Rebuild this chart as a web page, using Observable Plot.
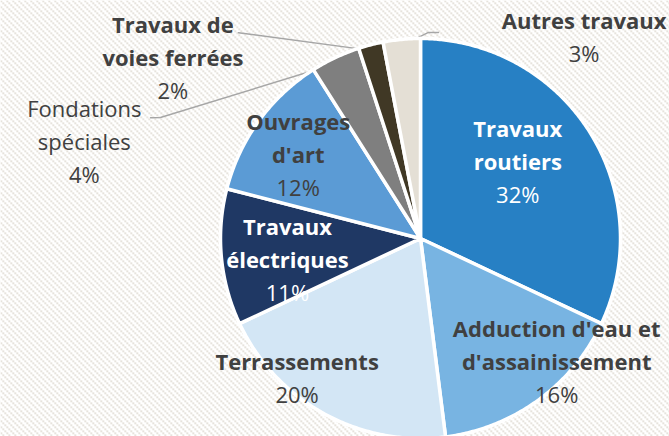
<!DOCTYPE html>
<html>
<head>
<meta charset="utf-8">
<script src="https://cdn.jsdelivr.net/npm/d3@7"></script>
<script src="https://cdn.jsdelivr.net/npm/@observablehq/plot@0.6"></script>
<style>
  html, body { margin: 0; padding: 0; background: #ffffff; }
</style>
</head>
<body>
<div id="chart"></div>
<script>
// ---------- DATA ----------
const categories = [
  "Travaux routiers",
  "Adduction d'eau et d'assainissement",
  "Terrassements",
  "Travaux électriques",
  "Ouvrages d'art",
  "Fondations spéciales",
  "Travaux de voies ferrées",
  "Autres travaux"
];
const shares = [32, 16, 20, 11, 12, 4, 2, 3];
const percentLabels = ["32%", "16%", "20%", "11%", "12%", "4%", "2%", "3%"];
const nameLines = [
  ["Travaux", "routiers"],
  ["Adduction d'eau et", "d'assainissement"],
  ["Terrassements"],
  ["Travaux", "électriques"],
  ["Ouvrages", "d'art"],
  ["Fondations", "spéciales"],
  ["Travaux de", "voies ferrées"],
  ["Autres travaux"]
];

// ---------- STYLE ----------
const sliceColors = ["#2780C4", "#78B4E2", "#D3E6F5", "#1F3864", "#5B9BD5", "#7F7F7F", "#403825", "#E4DFD5"];
const labelColors = ["#FFFFFF", "#404040", "#404040", "#FFFFFF", "#404040", "#404040", "#404040", "#404040"];
const nameBold = [true, true, true, true, true, false, true, true];

// ---------- LAYOUT (polar: degrees clockwise from 12 o'clock, radius as fraction of pie radius) ----------
const W = 669, H = 436, CX = 420, CY = 238, R = 200;
const FONT = 22, LINE_PX = 33;
const labelPolar = [
  [66.6, 0.53], [139.1, 1.04], [218.1, 1.0], [247.5, 0.72],
  [292.1, 0.66], [280.6, 1.71], [300.7, 1.44], [41.7, 1.23]
];
// leader waypoints from the label side toward the slice
const leaderWaypoints = {
  "Fondations spéciales": [[294.1, 1.479], [294.95, 1.434]],
  "Travaux de voies ferrées": [[318.5, 1.374]],
  "Autres travaux": [[4.99, 1.034], [2.22, 1.031]]
};

const toXY = (deg, r) => {
  const a = deg * Math.PI / 180;
  return {x: r * Math.sin(a), y: r * Math.cos(a)};
};

// ---------- GEOMETRY ----------
const arcs = d3.pie().sort(null).value(d => d)(shares);
const slices = arcs.map(p => {
  const pts = [{x: 0, y: 0}];
  const n = Math.max(2, Math.ceil((p.endAngle - p.startAngle) / (Math.PI / 360)));
  for (let k = 0; k <= n; k++) {
    const a = p.startAngle + (p.endAngle - p.startAngle) * k / n;
    pts.push({x: Math.sin(a), y: Math.cos(a)});
  }
  pts.push({x: 0, y: 0});
  return pts;
});

const leaders = Object.entries(leaderWaypoints).map(([cat, wps]) => {
  const i = categories.indexOf(cat);
  const mid = (arcs[i].startAngle + arcs[i].endAngle) / 2 * 180 / Math.PI;
  return [...wps.map(([d, r]) => toXY(d, r)), toXY(mid, 0.97)];
});

const rows = [];
categories.forEach((c, i) => {
  const p = toXY(...labelPolar[i]);
  rows.push({x: p.x, y: p.y, text: percentLabels[i], color: labelColors[i], bold: false});
  const L = nameLines[i].length;
  nameLines[i].forEach((t, j) => {
    rows.push({x: p.x, y: p.y + (L - j) * LINE_PX / R, text: t, color: labelColors[i], bold: nameBold[i]});
  });
});

const svg = Plot.plot({
  width: W,
  height: H,
  margin: 0,
  x: {domain: [-CX / R, (W - CX) / R], axis: null},
  y: {domain: [-(H - CY) / R, CY / R], axis: null},
  color: {type: "identity"},
  marks: [
    Plot.frame({fill: "url(#hatch)", stroke: "none"}),
    ...leaders.map(pts => Plot.line(pts, {x: "x", y: "y", stroke: "#A6A6A6", strokeWidth: 1.4})),
    ...slices.map((pts, i) => Plot.line(pts, {
      x: "x", y: "y", fill: sliceColors[i], stroke: "#FFFFFF", strokeWidth: 3.5, strokeLinejoin: "round"
    })),
    Plot.text(rows.filter(d => d.bold), {
      x: "x", y: "y", text: "text", fill: "color", fontWeight: "bold",
      fontSize: FONT, fontFamily: "Open Sans", textAnchor: "middle"
    }),
    Plot.text(rows.filter(d => !d.bold), {
      x: "x", y: "y", text: "text", fill: "color",
      fontSize: FONT, fontFamily: "Open Sans", textAnchor: "middle"
    })
  ]
});

const defs = d3.select(svg).insert("defs", ":first-child");
const pat = defs.append("pattern")
  .attr("id", "hatch")
  .attr("patternUnits", "userSpaceOnUse")
  .attr("width", 6).attr("height", 6);
pat.append("rect").attr("width", 6).attr("height", 6).attr("fill", "#FFFFFF");
[0, 2, 4].forEach(k => pat.append("rect").attr("x", k).attr("y", k).attr("width", 1.5).attr("height", 1.5).attr("fill", "#D3CDC2"));

document.getElementById("chart").appendChild(svg);
</script>
</body>
</html>
